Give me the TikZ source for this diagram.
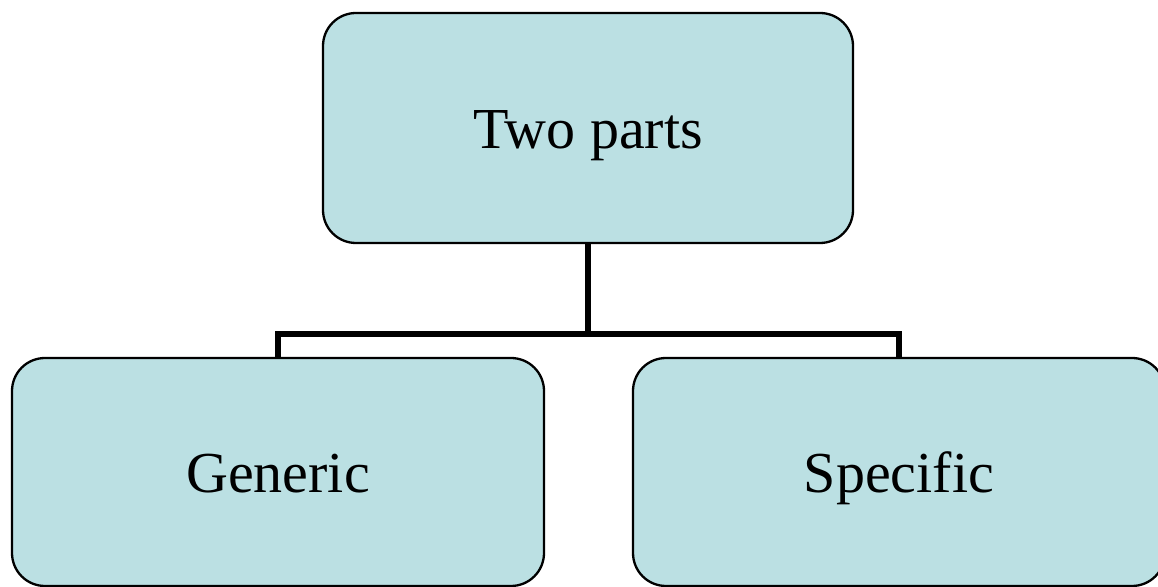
\documentclass[tikz,border=0pt]{standalone}
\usepackage{fontspec}
\setmainfont{Liberation Serif}
\definecolor{boxfill}{RGB}{187,224,227}
\begin{document}
\begin{tikzpicture}[x=1pt,y=1pt,
  box/.style={draw=black, line width=2.3pt, fill=boxfill, rounded corners=33pt,
    inner sep=0pt, text height=41pt, text depth=0pt,
    font=\fontsize{58}{69}\selectfont},
  link/.style={draw=black, line width=6pt}]
\useasboundingbox (0,0) rectangle (1158,586);
\clip (0,0) rectangle (1158,586);
% the three boxes of the hierarchy
\node[box, minimum width=530pt, minimum height=230pt] (top) at (588,458) {Two parts};
\node[box, minimum width=532pt, minimum height=228pt] (left) at (278,114) {Generic};
\node[box, minimum width=532pt, minimum height=228pt] (right) at (899,114) {Specific};
% elbow connectors from the parent to both children
\coordinate (mid) at (588,252);
\draw[link] (top.south) -- (mid);
\draw[link] (mid) -| (left.north);
\draw[link] (mid) -| (right.north);
\end{tikzpicture}
\end{document}
